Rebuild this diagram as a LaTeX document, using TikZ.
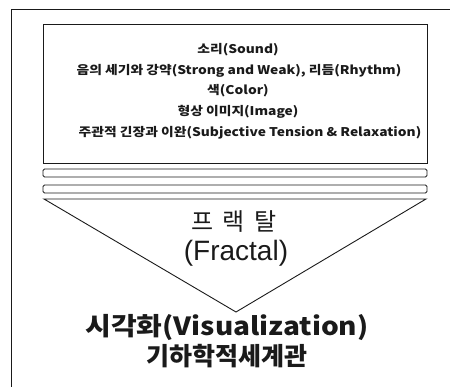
\documentclass[tikz,border=0pt]{standalone}
\usepackage{fontspec}
\usepackage{graphicx}
\usepackage{tikz}
\usetikzlibrary{positioning}
\newfontfamily\kr{Noto Sans CJK KR}
\newfontfamily\krwide[LetterSpace=38]{Noto Sans CJK KR}
\newfontfamily\arial{Liberation Sans}
\definecolor{ink}{HTML}{1A1A1A}
\newcommand{\wide}[2]{\scalebox{#1}[1]{#2}}
\tikzset{
  frame/.style={draw=ink, line width=0.9pt},
  bar/.style={draw=ink, line width=0.9pt, rounded corners=1.5pt},
  item/.style={font=\kr\bfseries\fontsize{12}{14}\selectfont, text=ink, inner sep=0pt},
  fracname/.style={font=\krwide\fontsize{24}{26}\selectfont, text=ink, inner sep=0pt},
  fraclat/.style={font=\arial\fontsize{28}{32}\selectfont, text=ink, inner sep=0pt},
  result/.style={font=\kr\bfseries\fontsize{25}{28}\selectfont, text=ink, inner sep=0pt},
}
\begin{document}
\begin{tikzpicture}[x=1pt, y=-1pt]
\useasboundingbox (0,0) rectangle (450,387);
% page frame
\draw[frame] (11,387) -- (11,9) -- (450,9);

% elements box
\draw[frame] (43,24) rectangle (427,163);
\node[item] (sound)  at (238,50)  {\wide{1.15}{소리(Sound)}};
\node[item] (strong) at (239,71)  {\wide{1.15}{음의 세기와 강약(Strong and Weak), 리듬(Rhythm)}};
\node[item] (color)  at (238,91)  {\wide{1.15}{색(Color)}};
\node[item] (image)  at (238,112) {\wide{1.15}{형상 이미지(Image)}};
\node[item] (tense)  at (250,133) {\wide{1.15}{주관적 긴장과 이완(Subjective Tension \& Relaxation)}};

% layers
\draw[bar] (43,169) rectangle (427,177);
\draw[bar] (43,185) rectangle (427,193);

% funnel
\draw[frame, line join=miter] (44,199) -- (426,199) -- (236,312) -- cycle;
\node[fracname] (frac)  at (234,222) {프랙탈};
\node[fraclat]  (fracl) at (236,253) {(Fractal)};

% result
\node[result] (vis)   at (227,328) {\wide{1.12}{시각화(Visualization)}};
\node[result] (world) at (227,356) {기하학적세계관};
\end{tikzpicture}
\end{document}
